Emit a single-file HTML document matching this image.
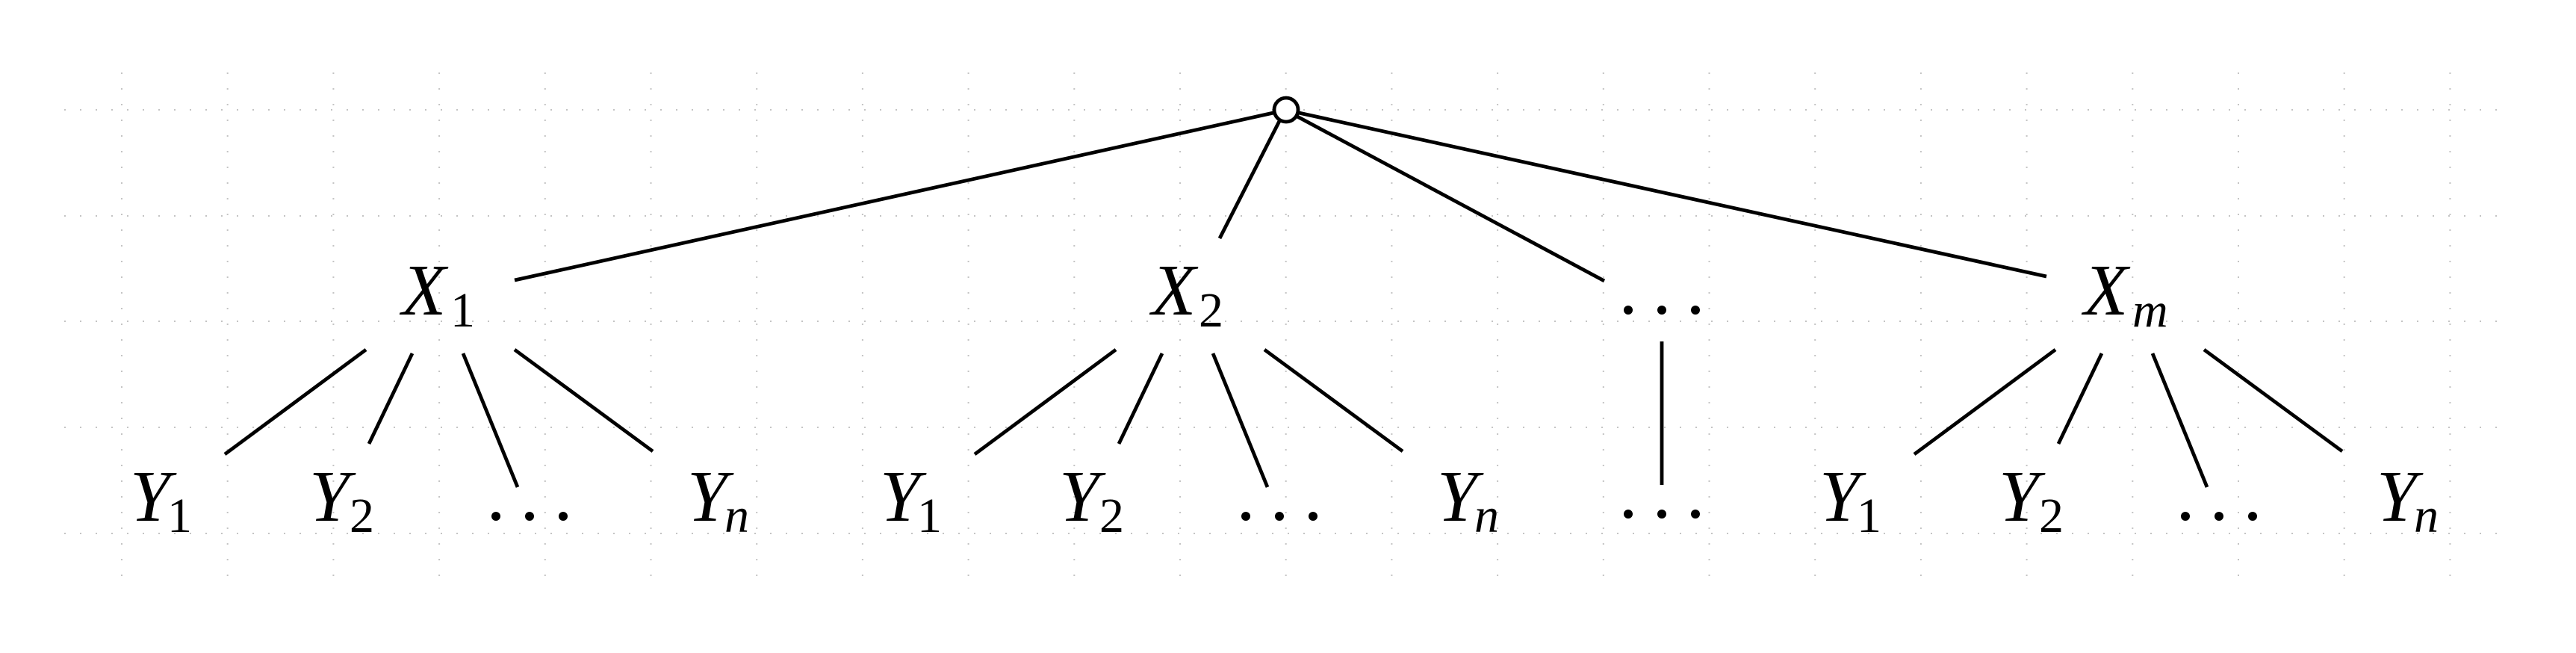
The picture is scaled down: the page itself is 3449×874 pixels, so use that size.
<!DOCTYPE html>
<html><head><meta charset="utf-8"><style>
html,body{margin:0;padding:0;background:#fff;}
svg{display:block;}
</style></head><body>
<svg width="3449" height="874" viewBox="0 0 3449 874" xmlns="http://www.w3.org/2000/svg" font-family="Liberation Serif, DejaVu Serif, serif">
<g stroke="#c4c4c4" stroke-width="2" stroke-dasharray="2 19">
<line x1="86" y1="147" x2="3352" y2="147"/>
<line x1="86" y1="289" x2="3352" y2="289"/>
<line x1="86" y1="430" x2="3352" y2="430"/>
<line x1="86" y1="572" x2="3352" y2="572"/>
<line x1="86" y1="714" x2="3352" y2="714"/>
</g>
<g stroke="#c4c4c4" stroke-width="2" stroke-dasharray="2 19">
<line x1="163" y1="97" x2="163" y2="790"/><line x1="304.7" y1="97" x2="304.7" y2="790"/><line x1="446.4" y1="97" x2="446.4" y2="790"/><line x1="588.1" y1="97" x2="588.1" y2="790"/><line x1="729.8" y1="97" x2="729.8" y2="790"/><line x1="871.5" y1="97" x2="871.5" y2="790"/><line x1="1013.2" y1="97" x2="1013.2" y2="790"/><line x1="1154.9" y1="97" x2="1154.9" y2="790"/><line x1="1296.6" y1="97" x2="1296.6" y2="790"/><line x1="1438.3" y1="97" x2="1438.3" y2="790"/><line x1="1580" y1="97" x2="1580" y2="790"/><line x1="1721.7" y1="97" x2="1721.7" y2="790"/><line x1="1863.4" y1="97" x2="1863.4" y2="790"/><line x1="2005.1" y1="97" x2="2005.1" y2="790"/><line x1="2146.8" y1="97" x2="2146.8" y2="790"/><line x1="2288.5" y1="97" x2="2288.5" y2="790"/><line x1="2430.2" y1="97" x2="2430.2" y2="790"/><line x1="2571.9" y1="97" x2="2571.9" y2="790"/><line x1="2713.6" y1="97" x2="2713.6" y2="790"/><line x1="2855.3" y1="97" x2="2855.3" y2="790"/><line x1="2997" y1="97" x2="2997" y2="790"/><line x1="3138.7" y1="97" x2="3138.7" y2="790"/><line x1="3280.4" y1="97" x2="3280.4" y2="790"/>
</g>

<g stroke="#000" stroke-width="4.8" fill="none">
<line x1="1705" y1="151" x2="689" y2="375"/>
<line x1="1713" y1="162" x2="1633" y2="319"/>
<line x1="1737" y1="156" x2="2148" y2="376"/>
<line x1="1739" y1="151" x2="2740" y2="370"/>
<circle cx="1722" cy="147" r="16" fill="#fff"/>
<line x1="2225" y1="457" x2="2225" y2="649"/>
</g>

<defs>
<g id="sub">
<g stroke="#000" stroke-width="4.8">
<line x1="490" y1="468" x2="301" y2="608"/>
<line x1="552" y1="473" x2="494" y2="594"/>
<line x1="620" y1="473" x2="693" y2="652"/>
<line x1="689" y1="468" x2="874" y2="604"/>
</g>
<text font-style="italic" font-size="97" x="174" y="697">Y</text><text font-size="66" x="224" y="712">1</text>
<text font-style="italic" font-size="97" x="414" y="697">Y</text><text font-size="66" x="468" y="712">2</text>
<circle cx="664" cy="691" r="6"/><circle cx="709" cy="691" r="6"/><circle cx="754" cy="691" r="6"/>
<text font-style="italic" font-size="97" x="920" y="697">Y</text><text font-style="italic" font-size="66" x="970" y="712">n</text>
</g>
</defs>
<use href="#sub"/>
<use href="#sub" transform="translate(1004,0)"/>
<use href="#sub" transform="translate(2262,0)"/>

<text font-style="italic" font-size="97" x="538" y="421">X</text><text font-size="66" x="603" y="437">1</text>
<text font-style="italic" font-size="97" x="1542" y="421">X</text><text font-size="66" x="1605" y="437">2</text>
<text font-style="italic" font-size="97" x="2790" y="421">X</text><text font-style="italic" font-size="66" x="2855" y="437">m</text>

<circle cx="2180" cy="415" r="6"/><circle cx="2225" cy="415" r="6"/><circle cx="2270" cy="415" r="6"/>
<circle cx="2180" cy="688" r="6"/><circle cx="2225" cy="688" r="6"/><circle cx="2270" cy="688" r="6"/>
</svg>
</body></html>
